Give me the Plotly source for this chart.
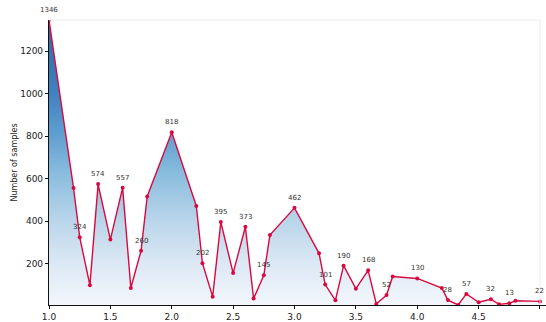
import plotly.graph_objects as go

# Ratio values (x) and sample counts (y)
ratios = [1.0, 1.2, 1.25, 4/3, 1.4, 1.5, 1.6, 5/3, 1.75, 1.8,
          2.0, 2.2, 2.25, 7/3, 2.4, 2.5, 2.6, 8/3, 2.75, 2.8,
          3.0, 3.2, 3.25, 10/3, 3.4, 3.5, 3.6, 11/3, 3.75, 3.8,
          4.0, 4.2, 4.25, 13/3, 4.4, 4.5, 4.6, 14/3, 4.75, 4.8, 5.0]
counts = [1346, 555, 324, 98, 574, 313, 557, 85, 260, 516,
          818, 471, 202, 44, 395, 155, 373, 35, 145, 334,
          462, 248, 101, 27, 190, 82, 168, 10, 52, 139,
          130, 85, 28, 5, 57, 18, 32, 8, 13, 25, 22]
# Indices of points carrying a value label
labelled = [0, 2, 4, 6, 8, 10, 12, 14, 16, 18, 20, 22, 24, 26, 28,
            30, 32, 34, 36, 38, 40]

x_ticks = [1.0, 1.5, 2.0, 2.5, 3.0, 3.5, 4.0, 4.5, 5.0]
y_ticks = [200, 400, 600, 800, 1000, 1200]

line_color = "#d70a3f"
font = "DejaVu Sans"

fig = go.Figure()

fig.add_trace(go.Scatter(
    x=ratios, y=counts,
    mode="lines+markers",
    line=dict(color=line_color, width=1.4),
    marker=dict(color=line_color, size=4),
    fill="tozeroy",
    fillgradient=dict(
        type="vertical",
        colorscale=[
            [0.0, "#f3f7fc"],
            [0.15, "#dce8f4"],
            [0.3, "#b9d5ea"],
            [0.45, "#8ebfdf"],
            [0.6, "#5f9fd0"],
            [0.75, "#3f80bf"],
            [1.0, "#2c68a8"],
        ],
    ),
    hoverinfo="skip",
    showlegend=False,
))

# Value labels just above the selected points
for i in labelled:
    fig.add_annotation(
        x=ratios[i], y=counts[i], text=str(counts[i]),
        showarrow=False, yshift=10,
        font=dict(family=font, size=7, color="#333333"),
    )

# Faint upper and right frame around the data area
fig.add_shape(type="line", xref="x", yref="paper", x0=1.0, x1=5.0, y0=1, y1=1,
              line=dict(color="#ececec", width=1))
fig.add_shape(type="line", xref="x", yref="paper", x0=5.0, x1=5.0, y0=0, y1=1,
              line=dict(color="#ececec", width=1))

fig.update_layout(
    width=546, height=322,
    margin=dict(l=49, r=0, t=20, b=15),
    paper_bgcolor="white",
    plot_bgcolor="white",
    font=dict(family=font, size=9, color="#222222"),
    xaxis=dict(
        range=[1.0, 5.049],
        tickvals=x_ticks,
        tickformat=".1f",
        showgrid=False, zeroline=False,
        showline=True, linecolor="#111111", linewidth=1.2,
        ticks="outside", ticklen=3, tickcolor="#111111",
        tickfont=dict(size=9),
    ),
    yaxis=dict(
        range=[min(counts), max(counts)],
        tickvals=y_ticks,
        showgrid=False, zeroline=False,
        showline=True, linecolor="#111111", linewidth=1.2,
        ticks="outside", ticklen=3, tickcolor="#111111",
        tickfont=dict(size=9),
        title=dict(text="Number of samples", font=dict(size=8), standoff=1),
    ),
)

fig.write_html("out.html")
